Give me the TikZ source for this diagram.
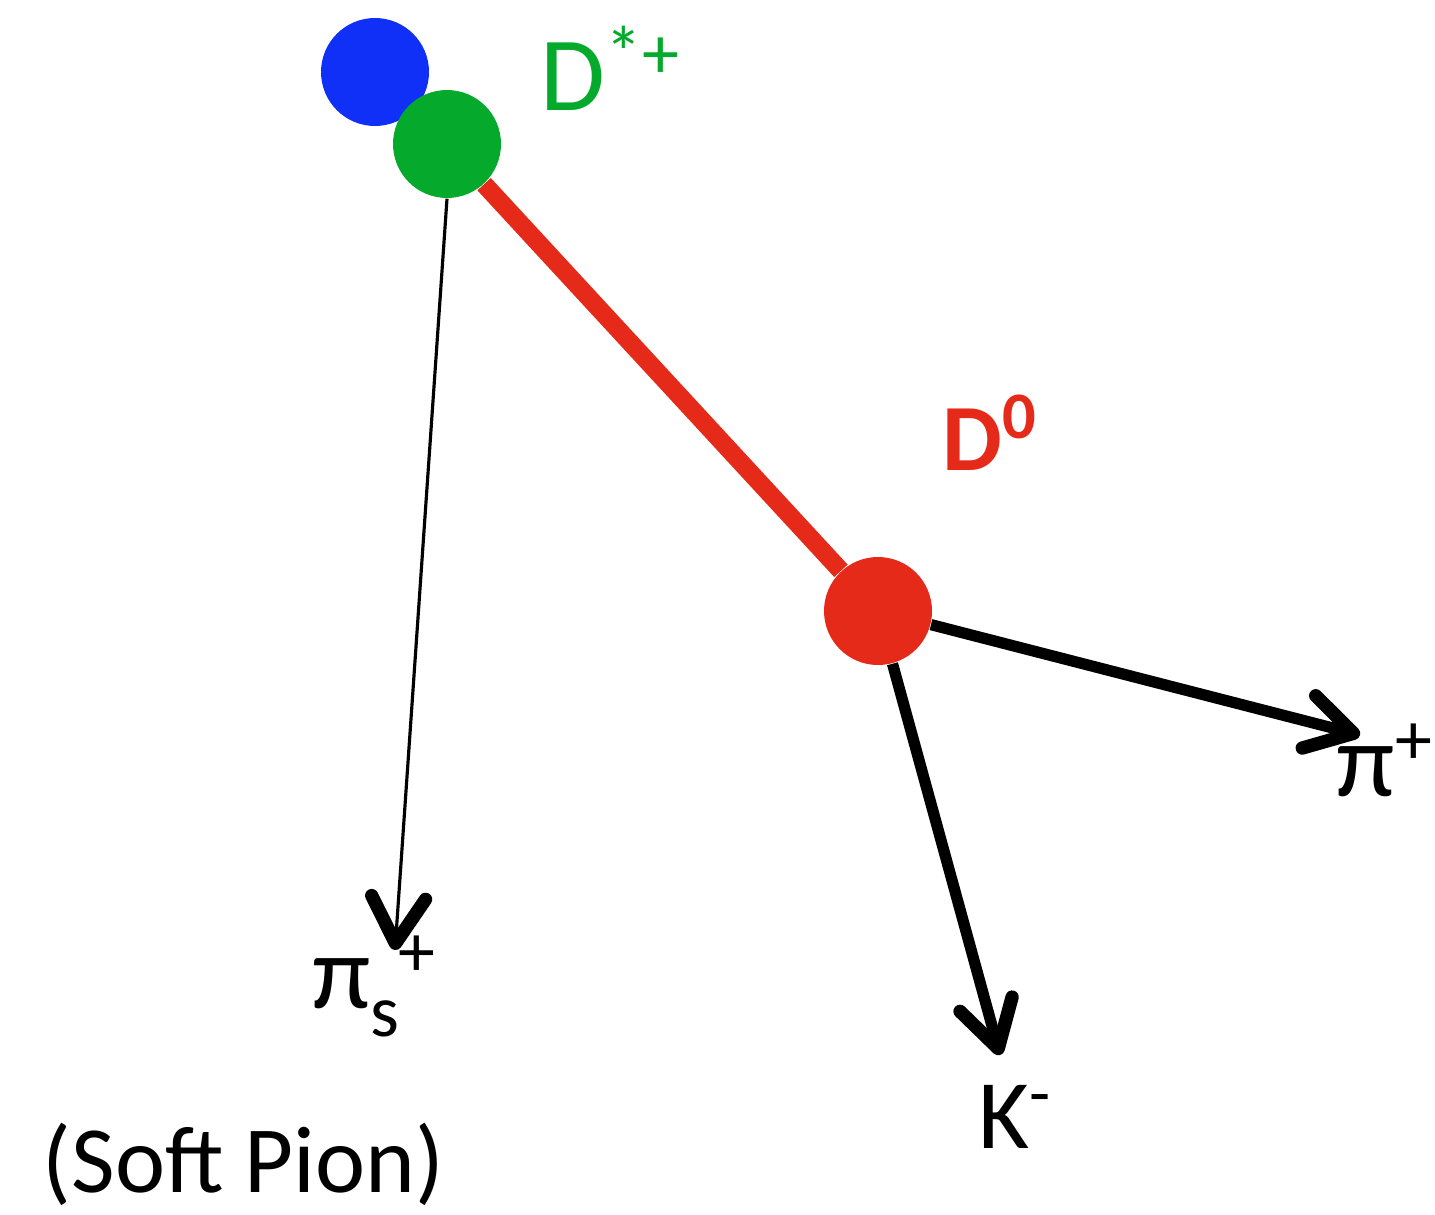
\documentclass[tikz,border=0pt]{standalone}
\usepackage{fontspec}
\setmainfont{Carlito}
\usetikzlibrary{arrows.meta}

\definecolor{dstarblue}{HTML}{1030F8}
\definecolor{dstargreen}{HTML}{05AA2D}
\definecolor{dzero}{HTML}{E62A1A}

\tikzset{
  vtx/.style={circle, fill=#1, inner sep=0pt, minimum size=1.08cm},
  trk/.style={-{Straight Barb[round, length=4.6mm, width=5.4mm, line width=3.8pt]}},
  lbl/.style={anchor=base west, inner sep=0pt}
}

\begin{document}
\begin{tikzpicture}[font=\fontsize{28}{30}\selectfont]
\useasboundingbox (0,0) rectangle (14.35,12.14);
% primary vertex and D*+ decay vertex
\node[vtx=dstarblue] (pv) at (3.75,11.42) {};
\node[vtx=dstargreen] (dstar) at (4.47,10.70) {};
\node[lbl, text=dstargreen, font=\fontsize{30}{32}\selectfont] (dstarlbl) at (5.40,11.04) {D\textsuperscript{*+}};
% D0 flight and decay vertex
\node[vtx=dzero] (dzero) at (8.78,6.03) {};
\draw[dzero, line width=5.2pt] (dstar) -- (dzero);
\node[lbl, text=dzero, font=\fontsize{27}{29}\selectfont\bfseries] (dzerolbl) at (9.42,7.44) {D\textsuperscript{0}};
% soft pion
\coordinate (pis) at (3.95,2.64);
\draw[trk, line width=0.9pt] (dstar.south) -- (pis);
\node[lbl, font=\fontsize{30}{32}\selectfont] (pislbl) at (3.12,2.06) {π\raisebox{-0.3ex}{\textsubscript{s}}\textsuperscript{\kern-1pt+}};
\node[lbl, font=\fontsize{27}{29}\selectfont] (soft) at (0.42,0.22) {(Soft Pion)};
% kaon
\coordinate (kaon) at (10.00,1.59);
\draw[trk, line width=3.2pt] (dzero) -- (kaon);
\node[lbl] (kaonlbl) at (9.78,0.66) {K\textsuperscript{-}};
% pion
\coordinate (pion) at (13.60,4.79);
\draw[trk, line width=3.2pt] (dzero) -- (pion);
\node[lbl, font=\fontsize{30}{32}\selectfont] (pionlbl) at (13.36,4.18) {π\textsuperscript{+}};
\end{tikzpicture}
\end{document}
